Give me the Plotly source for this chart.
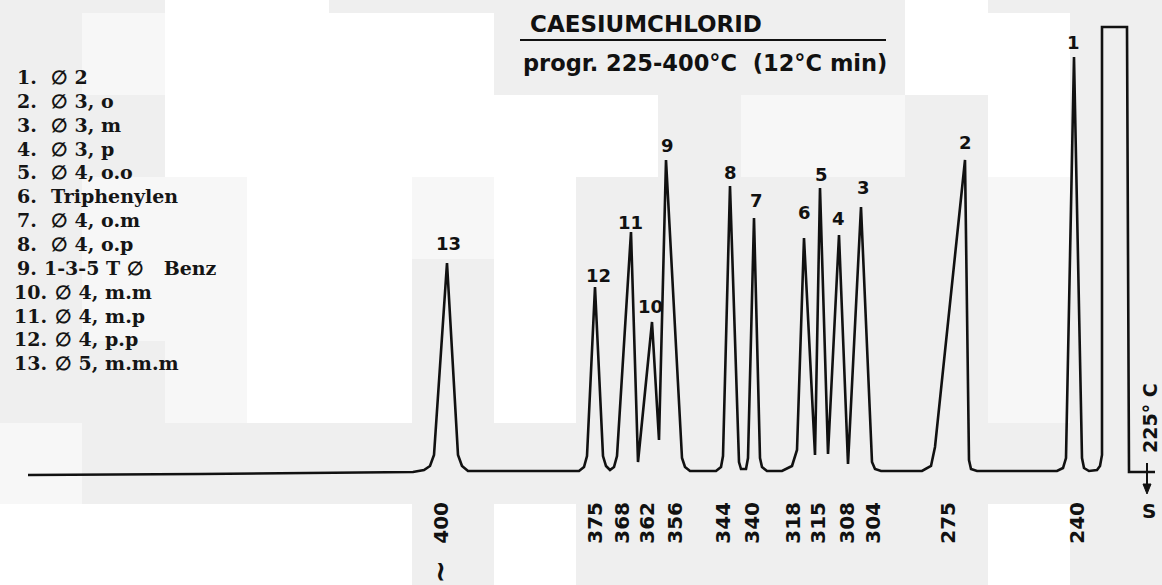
import plotly.graph_objects as go

# ---------------- data ----------------
# chromatogram trace: retention position (arbitrary units) and detector signal
trace_pos = [28, 200, 413, 424, 430, 434, 447, 458, 462, 468,
             579, 584, 587, 595, 603, 606, 610, 614, 617, 631, 638, 652, 659, 666,
             682, 685, 690, 716, 721, 723, 730, 739, 741, 746, 748, 754, 760, 762, 767,
             782, 792, 797, 804, 815, 820, 828, 839, 848, 861, 872, 875, 881,
             922, 931, 935, 965, 969, 971, 977,
             1057, 1063, 1066, 1074, 1082, 1084, 1089, 1097, 1100, 1102,
             1102, 1127, 1129, 1155]
trace_sig = [-3, -2, 0, 2, 6, 17, 209, 17, 6, 1,
             1, 5, 16, 185, 16, 6, 2, 5, 16, 240, 10, 150, 32, 312,
             14, 5, 1, 1, 5, 16, 286, 10, 3, 3, 14, 254, 14, 5, 1,
             1, 6, 22, 234, 17, 284, 18, 237, 8, 265, 10, 3, 1,
             1, 6, 25, 312, 12, 3, 1,
             1, 4, 14, 415, 14, 4, 1, 2, 6, 17,
             445, 445, 0, 0]

# peak numbers and where they are written
peak_ids = ["13", "12", "11", "10", "9", "8", "7", "6", "5", "4", "3", "2", "1"]
peak_label_pos = [448, 598, 630, 650, 667, 730, 756, 804, 821, 838, 863, 965, 1073]
peak_label_sig = [229, 197, 250, 166, 327, 300, 272, 260, 298, 254, 285, 330, 430]

# elution temperatures (°C) under the peaks
temp_pos = [441, 595, 622, 647, 675, 723, 752, 793, 818, 847, 873, 948, 1077]
temp_labels = ["400", "375", "368", "362", "356", "344", "340", "318",
               "315", "308", "304", "275", "240"]

legend_nums = ["1.", "2.", "3.", "4.", "5.", "6.", "7.", "8.", "9.",
               "10.", "11.", "12.", "13."]
legend_names = ["\u2205 2", "\u2205 3, o", "\u2205 3, m", "\u2205 3, p",
                "\u2205 4, o.o", "Triphenylen", "\u2205 4, o.m", "\u2205 4, o.p",
                "1-3-5 T \u2205\u00a0\u00a0 Benz", "\u2205 4, m.m",
                "\u2205 4, m.p", "\u2205 4, p.p", "\u2205 5, m.m.m"]

title_text = "CAESIUMCHLORID"
subtitle_text = "progr. 225-400\u00b0C\u00a0 (12\u00b0C min)"
start_temp_text = "225\u00b0 C"

# ---------------- layout / style ----------------
W, H = 1162, 585
BASE_PX = 472            # pixel row of signal 0


def py(px_row):          # pixel row -> paper y
    return 1 - px_row / H


def px(col):             # pixel column -> paper x
    return col / W


# scanned-paper background patches (style only)
col_edges = [0, 82, 165, 247, 329, 412, 494, 576, 658, 741, 823, 905, 988, 1070, 1162]
row_edges = [0, 13, 95, 177, 259, 341, 423, 504, 585]
patch = [
    "GGWWGGGGGGGWGG",
    "GLWWWWGGGGGWWG",
    "GGWWWWWWGLLGWG",
    "GLLWWLWGGGGGLG",
    "GLLWWGWGGGGGLG",
    "GGLWWGWGGGGGLG",
    "LGGGGGGGGGGGGG",
    "WWWWWGWGGGGGWG",
]
patch_col = {"G": "#efefef", "L": "#f7f7f7", "W": "#ffffff"}

shapes = []
for r, row in enumerate(patch):
    for c, k in enumerate(row):
        if k == "G":
            continue
        shapes.append(dict(type="rect", xref="paper", yref="paper", layer="below",
                           x0=px(col_edges[c]), x1=px(col_edges[c + 1]),
                           y0=py(row_edges[r + 1]), y1=py(row_edges[r]),
                           fillcolor=patch_col[k], line=dict(width=0)))

ink = "#111111"
# title underline
shapes.append(dict(type="line", xref="paper", yref="paper", x0=px(520), x1=px(886),
                   y0=py(40), y1=py(40), line=dict(color=ink, width=2)))
# start marker at the right end
shapes.append(dict(type="line", xref="paper", yref="paper", x0=px(1147), x1=px(1147),
                   y0=py(463), y1=py(488), line=dict(color=ink, width=2)))
shapes.append(dict(type="path", xref="paper", yref="paper",
                   path=f"M {px(1143)} {py(484)} L {px(1151)} {py(484)} L {px(1147)} {py(494)} Z",
                   fillcolor=ink, line=dict(color=ink, width=1)))

fig = go.Figure()
fig.add_trace(go.Scatter(x=trace_pos, y=trace_sig, mode="lines",
                         line=dict(color=ink, width=2.6), hoverinfo="skip",
                         showlegend=False))

ann = []
num_font = dict(family="DejaVu Sans", size=18, color=ink, weight="bold")
for t, xp, ys in zip(peak_ids, peak_label_pos, peak_label_sig):
    ann.append(dict(x=xp, y=ys, xref="x", yref="y", text=t, showarrow=False,
                    font=num_font, xanchor="center", yanchor="middle"))

leg_font = dict(family="DejaVu Serif", size=19, color="#151515", weight="bold")
for i, (n, name) in enumerate(zip(legend_nums, legend_names)):
    yrow = 77 + 23.85 * i
    two = len(n) > 2
    num_x = 12 if two else 15
    if name.startswith("1-3-5"):
        txt_x = 42
    else:
        txt_x = 53 if two else 49
    ann.append(dict(x=px(num_x), y=py(yrow), xref="paper", yref="paper", text=n,
                    showarrow=False, font=leg_font, xanchor="left", yanchor="middle"))
    ann.append(dict(x=px(txt_x), y=py(yrow), xref="paper", yref="paper", text=name,
                    showarrow=False, font=leg_font, xanchor="left", yanchor="middle"))

ann.append(dict(x=px(528), y=py(24), xref="paper", yref="paper", text=title_text,
                showarrow=False, xanchor="left", yanchor="middle",
                font=dict(family="DejaVu Sans", size=23, color=ink, weight="bold")))
ann.append(dict(x=px(521), y=py(63), xref="paper", yref="paper", text=subtitle_text,
                showarrow=False, xanchor="left", yanchor="middle",
                font=dict(family="DejaVu Sans", size=22.5, color=ink, weight="bold")))
ann.append(dict(x=px(1150), y=py(418), xref="paper", yref="paper", text=start_temp_text,
                showarrow=False, textangle=-90, xanchor="center", yanchor="middle",
                font=dict(family="DejaVu Sans", size=19, color=ink, weight="bold")))
ann.append(dict(x=px(1149), y=py(511), xref="paper", yref="paper", text="S",
                showarrow=False, xanchor="center", yanchor="middle",
                font=dict(family="DejaVu Sans", size=20, color=ink, weight="bold")))
ann.append(dict(x=px(442), y=py(571), xref="paper", yref="paper", text="~",
                showarrow=False, textangle=90, xanchor="center", yanchor="middle",
                font=dict(family="DejaVu Sans", size=28, color=ink, weight="bold")))

fig.update_layout(
    width=W, height=H, autosize=False,
    margin=dict(l=0, r=0, t=0, b=0, pad=0),
    paper_bgcolor="#efefef", plot_bgcolor="rgba(0,0,0,0)",
    shapes=shapes, annotations=ann, showlegend=False,
    xaxis=dict(range=[0, W], showgrid=False, zeroline=False, showline=False,
               ticks="", tickmode="array", tickvals=temp_pos, ticktext=temp_labels,
               tickangle=-90, anchor="free", position=(H - 497) / H,
               tickfont=dict(family="DejaVu Sans", size=20, color=ink, weight="bold"),
               fixedrange=True),
    yaxis=dict(range=[BASE_PX - H, BASE_PX], visible=False, fixedrange=True),
)

fig.write_html("out.html", config={"displayModeBar": False},
               post_script="document.body.style.margin='0';document.body.style.overflow='hidden';")
